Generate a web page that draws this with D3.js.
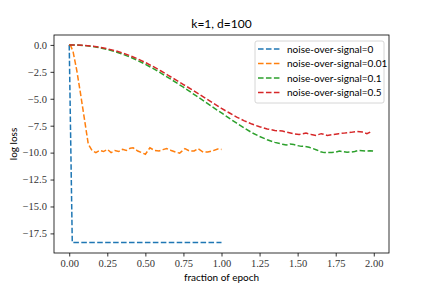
<!DOCTYPE html>
<html>
<head>
<meta charset="utf-8">
<script src="https://cdn.jsdelivr.net/npm/d3@7"></script>
<style>
  body { margin: 0; background: #fff; }
  .lbl { font-family: Lato, "DejaVu Sans", sans-serif; font-size: 10px; fill: #000; }
</style>
</head>
<body>
<svg width="432" height="288"></svg>
<script>
/* series data */
var seriesNames = ["noise-over-signal=0", "noise-over-signal=0.01", "noise-over-signal=0.1", "noise-over-signal=0.5"];

var xBlue = [0, 0.02, 1.0];
var yBlue = [0, -18.35, -18.35];

var xOrange = [0, 0.01, 0.025, 0.05, 0.075, 0.1, 0.125, 0.15, 0.175, 0.2, 0.225, 0.25, 0.275, 0.3, 0.325, 0.35, 0.375,
  0.4, 0.42, 0.45, 0.5, 0.53, 0.56, 0.59, 0.615, 0.64, 0.67, 0.7, 0.725, 0.76, 0.79, 0.82, 0.845, 0.88, 0.91, 0.94, 0.975, 1.0];
var yOrange = [0, -0.1, -0.6, -2.4, -4.6, -6.9, -9.2, -9.8, -10.0, -9.8, -9.9, -9.7, -10.0, -9.8, -9.9, -9.7, -9.8,
  -9.6, -9.55, -9.85, -10.15, -9.55, -9.8, -9.85, -9.72, -9.63, -9.8, -9.95, -10.05, -9.63, -9.85, -9.85, -9.63, -9.95, -9.95, -9.85, -9.66, -9.7];

var xGreen = [0, 0.05, 0.1, 0.15, 0.2, 0.25, 0.3, 0.35, 0.4, 0.45, 0.5, 0.55, 0.6, 0.65, 0.7, 0.75, 0.8, 0.85, 0.9, 0.95,
  1.0, 1.05, 1.1, 1.15, 1.2, 1.25, 1.3, 1.35, 1.4, 1.425, 1.45, 1.475, 1.5, 1.525, 1.55, 1.575, 1.6, 1.625, 1.65, 1.675,
  1.7, 1.725, 1.75, 1.775, 1.8, 1.825, 1.85, 1.875, 1.9, 1.925, 1.95, 1.975, 2.0];
var yGreen = [0, -0.01, -0.06, -0.14, -0.26, -0.42, -0.62, -0.86, -1.13, -1.45, -1.8, -2.18, -2.6, -3.03, -3.48, -3.93, -4.4, -4.88, -5.36, -5.84,
  -6.32, -6.8, -7.27, -7.72, -8.15, -8.5, -8.8, -9.05, -9.22, -9.3, -9.2, -9.25, -9.35, -9.42, -9.42, -9.5, -9.62, -9.75, -9.92, -10.0,
  -10.0, -9.98, -9.95, -9.85, -9.92, -9.96, -9.95, -9.9, -9.8, -9.82, -9.85, -9.83, -9.85];

var xRed = [0, 0.05, 0.1, 0.15, 0.2, 0.25, 0.3, 0.35, 0.4, 0.45, 0.5, 0.55, 0.6, 0.65, 0.7, 0.75, 0.8, 0.85, 0.9, 0.95,
  1.0, 1.05, 1.1, 1.15, 1.2, 1.25, 1.3, 1.35, 1.4, 1.425, 1.47, 1.51, 1.555, 1.59, 1.62, 1.655, 1.695, 1.73, 1.77, 1.805,
  1.85, 1.89, 1.925, 1.955, 1.99];
var yRed = [0, -0.01, -0.05, -0.12, -0.22, -0.36, -0.53, -0.75, -1.0, -1.3, -1.63, -2.0, -2.4, -2.82, -3.25, -3.68, -4.1, -4.55, -5.0, -5.45,
  -5.9, -6.3, -6.7, -7.05, -7.35, -7.6, -7.8, -7.95, -8.0, -8.09, -8.24, -8.31, -8.19, -8.31, -8.4, -8.24, -8.4, -8.33, -8.24, -8.19,
  -8.12, -8.03, -8.09, -8.24, -8.0];

var xTicks = [0, 0.25, 0.5, 0.75, 1.0, 1.25, 1.5, 1.75, 2.0];
var yTicks = [0, -2.5, -5, -7.5, -10, -12.5, -15, -17.5];

var colors = ["#1f77b4", "#ff7f0e", "#2ca02c", "#d62728"];

var svg = d3.select("svg");
var margin = {top: 35, right: 43, bottom: 35, left: 54};
var width = +svg.attr("width") - margin.left - margin.right;
var height = +svg.attr("height") - margin.top - margin.bottom;
var group = svg.append("g").attr("transform", "translate(" + margin.left + "," + margin.top + ")");

var x = d3.scaleLinear().domain([-0.1, 2.1]).range([0, width]);
var y = d3.scaleLinear().domain([-19.32, 0.92]).range([height, 0]);

var series = [
  {xs: xBlue, ys: yBlue},
  {xs: xOrange, ys: yOrange},
  {xs: xGreen, ys: yGreen},
  {xs: xRed, ys: yRed}
];

var line = d3.line()
    .x(function(d) { return x(d[0]); })
    .y(function(d) { return y(d[1]); });

/* lines */
group.selectAll("path.series")
  .data(series)
  .enter().append("path")
    .attr("class", "series")
    .attr("fill", "none")
    .attr("stroke", function(d, i) { return colors[i]; })
    .attr("stroke-width", 1.5)
    .attr("stroke-dasharray", "5.55,2.4")
    .attr("d", function(d) { return line(d.xs.map(function(v, i) { return [v, d.ys[i]]; })); });

/* axes */
var xAxis = group.append("g")
    .attr("transform", "translate(0," + height + ")")
    .call(d3.axisBottom(x).tickValues(xTicks).tickFormat(d3.format(".2f")).tickSize(3.5).tickPadding(3.5));
var yAxis = group.append("g")
    .call(d3.axisLeft(y).tickValues(yTicks).tickFormat(d3.format(".1f")).tickSize(3.5).tickPadding(3.5));

[xAxis, yAxis].forEach(function(a) {
  a.select(".domain").remove();
  a.selectAll(".tick line").attr("stroke", "#000").attr("stroke-width", 0.8);
  a.attr("font-family", "Liberation Serif, serif").attr("font-size", 10.5);
  a.selectAll(".tick text").attr("fill", "#333");
});

/* frame */
group.append("rect")
    .attr("width", width)
    .attr("height", height)
    .attr("fill", "none")
    .attr("stroke", "#000")
    .attr("stroke-width", 0.8);

/* title and labels */
svg.append("text")
    .attr("class", "lbl")
    .attr("x", margin.left + width / 2)
    .attr("y", 28)
    .attr("text-anchor", "middle")
    .style("font-size", "12px")
    .text("k=1, d=100");

svg.append("text")
    .attr("class", "lbl")
    .attr("x", margin.left + width / 2)
    .attr("y", 281)
    .attr("text-anchor", "middle")
    .text("fraction of epoch");

svg.append("text")
    .attr("class", "lbl")
    .attr("transform", "translate(17," + (margin.top + height / 2) + ") rotate(-90)")
    .attr("text-anchor", "middle")
    .text("log loss");

/* legend */
var legend = group.append("g")
    .attr("transform", "translate(" + (width - 134) + ",6)");

legend.append("rect")
    .attr("width", 129)
    .attr("height", 62)
    .attr("rx", 2)
    .attr("fill", "#fff")
    .attr("fill-opacity", 0.8)
    .attr("stroke", "#ccc")
    .attr("stroke-width", 0.8);

var rows = legend.selectAll("g.row")
  .data(seriesNames)
  .enter().append("g")
    .attr("class", "row")
    .attr("transform", function(d, i) { return "translate(0," + (8 + i * 14.5) + ")"; });

rows.append("line")
    .attr("x1", 3)
    .attr("x2", 25)
    .attr("stroke", function(d, i) { return colors[i]; })
    .attr("stroke-width", 1.5)
    .attr("stroke-dasharray", "5.55,2.4");

rows.append("text")
    .attr("class", "lbl")
    .attr("x", 32)
    .attr("dy", "0.35em")
    .style("font-size", "10px")
    .text(function(d) { return d; });
</script>
</body>
</html>
